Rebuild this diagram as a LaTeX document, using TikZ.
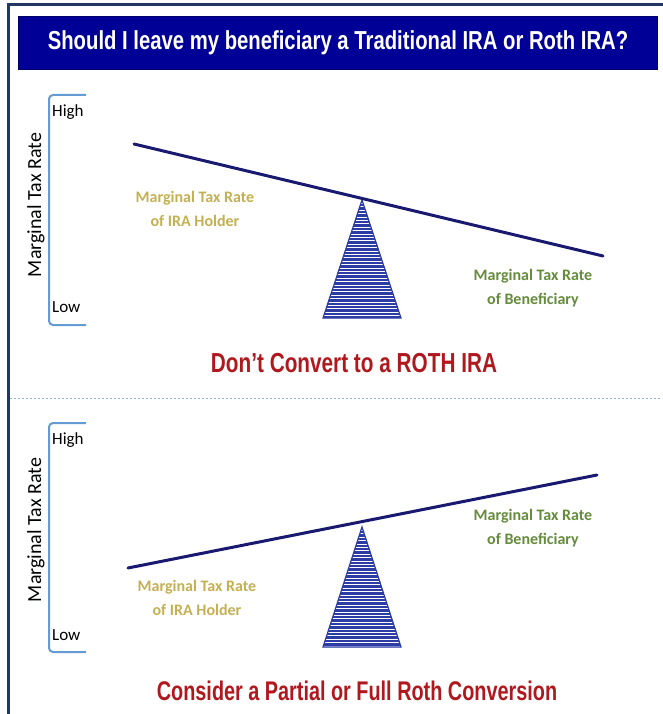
\documentclass[tikz,border=0pt]{standalone}
\usepackage{fontspec}
\setmainfont{Carlito}
\newfontfamily\narrowfont{Liberation Sans}[FakeStretch=0.78]
\newfontfamily\verdictfont{Liberation Sans}[FakeStretch=0.755]
\newfontfamily\verdictfontb{Liberation Sans}[FakeStretch=0.735]
\definecolor{frameblue}{RGB}{31,56,100}
\definecolor{titleblue}{RGB}{0,0,150}
\definecolor{beamblue}{RGB}{25,25,112}
\definecolor{fulcrumblue}{RGB}{45,60,165}
\definecolor{bracketblue}{RGB}{100,155,210}
\definecolor{holdergold}{RGB}{196,176,82}
\definecolor{benegreen}{RGB}{100,140,60}
\definecolor{verdictred}{RGB}{175,25,30}
\definecolor{dashgray}{RGB}{150,180,200}
\tikzset{
  beam/.style={line width=3pt, draw=beamblue, line cap=round},
  bracket/.style={draw=bracketblue, line width=2pt, rounded corners=4pt},
  axislabel/.style={font=\fontsize{20}{24}\selectfont, rotate=90, inner sep=0},
  levellabel/.style={font=\fontsize{17}{20}\selectfont, anchor=west, inner sep=0},
  holderlabel/.style={text=holdergold, font=\fontsize{16}{24}\selectfont\bfseries, align=center, inner sep=0},
  benelabel/.style={text=benegreen, font=\fontsize{16}{24}\selectfont\bfseries, align=center, inner sep=0},
  verdict/.style={text=verdictred, anchor=base, inner sep=0},
  fulcrumfill/.style={fill=fulcrumblue},
  fulcrumedge/.style={draw=fulcrumblue, line width=1.2pt},
  stripe/.style={draw=white, line width=1pt}
}
\begin{document}
\begin{tikzpicture}[x=1pt,y=-1pt]
\useasboundingbox (0,0) rectangle (662,714);
% frame
\coordinate (frTR) at (663,5);
\coordinate (frTL) at (8,5);
\coordinate (frBL) at (8,715);
\draw[frameblue, line width=3pt] (frTR) -- (frTL) -- (frBL);
% title
\node[fill=titleblue, draw=titleblue!70!black, line width=0.6pt, minimum width=639pt, minimum height=53pt, inner sep=0] (titlebox) at (337.5,42.5) {};
\node[text=white, font=\narrowfont\bfseries\fontsize{26}{30}\selectfont, anchor=base, inner sep=0] (title) at (338,49.5) {Should I leave my beneficiary a Traditional IRA or Roth IRA?};

% ---------- top panel ----------
\coordinate (b1t) at (86,95);
\coordinate (b1tc) at (49,95);
\coordinate (b1bc) at (49,325);
\coordinate (b1b) at (86,325);
\draw[bracket] (b1t) -- (b1tc) -- (b1bc) -- (b1b);
\node[levellabel] (high1) at (52,112) {High};
\node[levellabel] (low1) at (52,307) {Low};
\node[axislabel] (axis1) at (36,205) {Marginal Tax Rate};

\coordinate (beam1L) at (134,144);
\coordinate (beam1R) at (603,256);
\coordinate (tri1A) at (362,200);
\coordinate (tri1L) at (323,318);
\coordinate (tri1R) at (401,318);
\fill[fulcrumfill] (tri1A) -- (tri1L) -- (tri1R) -- cycle;
\begin{scope}
  \clip (tri1A) -- (tri1L) -- (tri1R) -- cycle;
  \foreach \k in {1,...,35} \draw[stripe] (300,{200+\k*3.4}) -- (420,{200+\k*3.4});
\end{scope}
\draw[fulcrumedge] (tri1A) -- (tri1L) -- (tri1R) -- cycle;
\draw[beam] (beam1L) -- (beam1R);

\node[holderlabel] (holder1) at (195,209) {Marginal Tax Rate\\of IRA Holder};
\node[benelabel] (bene1) at (533,288) {Marginal Tax Rate\\of Beneficiary};
\node[verdict, font=\verdictfont\bfseries\fontsize{27.5}{30}\selectfont] (verdict1) at (354,372) {Don’t Convert to a ROTH IRA};

% separator
\coordinate (sepL) at (10,398);
\coordinate (sepR) at (662,398);
\draw[dashgray, line width=0.9pt, dash pattern=on 2pt off 2pt] (sepL) -- (sepR);

% ---------- bottom panel ----------
\coordinate (b2t) at (86,423);
\coordinate (b2tc) at (49,423);
\coordinate (b2bc) at (49,652);
\coordinate (b2b) at (86,652);
\draw[bracket] (b2t) -- (b2tc) -- (b2bc) -- (b2b);
\node[levellabel] (high2) at (52,440) {High};
\node[levellabel] (low2) at (52,635) {Low};
\node[axislabel] (axis2) at (36,530) {Marginal Tax Rate};

\coordinate (beam2L) at (128,568);
\coordinate (beam2R) at (597,475);
\coordinate (tri2A) at (362,527);
\coordinate (tri2L) at (323,647);
\coordinate (tri2R) at (401,647);
\fill[fulcrumfill] (tri2A) -- (tri2L) -- (tri2R) -- cycle;
\begin{scope}
  \clip (tri2A) -- (tri2L) -- (tri2R) -- cycle;
  \foreach \k in {1,...,36} \draw[stripe] (300,{527+\k*3.4}) -- (420,{527+\k*3.4});
\end{scope}
\draw[fulcrumedge] (tri2A) -- (tri2L) -- (tri2R) -- cycle;
\draw[beam] (beam2L) -- (beam2R);

\node[holderlabel] (holder2) at (197,598) {Marginal Tax Rate\\of IRA Holder};
\node[benelabel] (bene2) at (533,528) {Marginal Tax Rate\\of Beneficiary};
\node[verdict, font=\verdictfontb\bfseries\fontsize{27}{30}\selectfont] (verdict2) at (357,700) {Consider a Partial or Full Roth Conversion};
\end{tikzpicture}
\end{document}
